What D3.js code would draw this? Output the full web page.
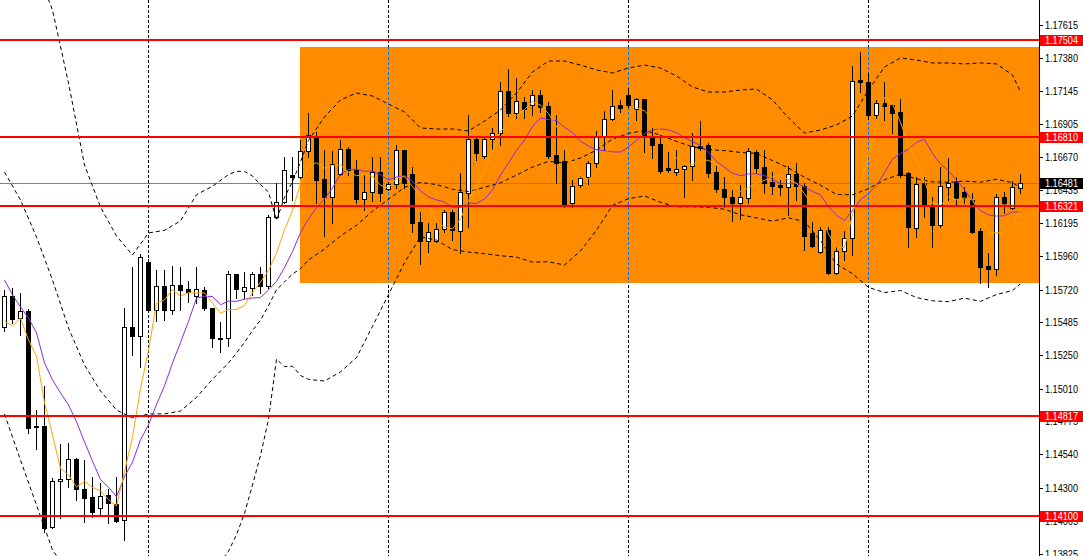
<!DOCTYPE html>
<html><head><meta charset="utf-8">
<script src="https://cdn.jsdelivr.net/npm/d3@7"></script>
<style>html,body{margin:0;padding:0;background:#fff;overflow:hidden}</style>
</head><body>
<svg id="chart" width="1083" height="556"></svg>
<script>
const opens = [1.15452,1.15674,1.15516,1.15566,1.14742,1.14742,1.14019,1.14348,1.14363,1.14506,
1.14291,1.14234,1.14155,1.14248,1.14183,1.14069,1.15452,1.15387,1.15917,1.15573,
1.15745,1.15573,1.15752,1.15724,1.15674,1.15717,1.15588,1.15373,1.15373,1.15831,
1.15709,1.15731,1.15831,1.15745,1.16240,1.16347,1.16540,1.16526,1.16712,1.16806,
1.16512,1.16383,1.16548,1.16727,1.16576,1.16368,1.16419,1.16562,1.16440,1.16476,
1.16720,1.16548,1.16204,1.16068,1.16068,1.16154,1.16275,1.16139,1.16411,1.16798,
1.16677,1.16798,1.16841,1.17142,1.16985,1.17063,1.17042,1.17114,1.17035,1.16684,
1.16641,1.16340,1.16469,1.16526,1.16626,1.16813,1.16942,1.17042,1.17114,1.17013,
1.17085,1.16813,1.16762,1.16590,1.16562,1.16583,1.16605,1.16748,1.16755,1.16562,
1.16440,1.16383,1.16340,1.16376,1.16705,1.16598,1.16490,1.16469,1.16454,1.16548,
1.16462,1.16125,1.15989,1.16146,1.15838,1.15996,1.16089,1.17221,1.17207,1.16970,
1.17056,1.17042,1.16992,1.16555,1.16161,1.16483,1.16318,1.16182,1.16454,1.16490,
1.16419,1.16361,1.16139,1.15889,1.15867,1.16383,1.16304,1.16447];
const highs = [1.15717,1.15731,1.15695,1.15580,1.14857,1.15029,1.14370,1.14613,1.14620,1.14513,
1.14499,1.14377,1.14334,1.14291,1.14377,1.15588,1.15881,1.15974,1.15939,1.15860,
1.15860,1.15889,1.15881,1.15781,1.15881,1.15738,1.15590,1.15487,1.15853,1.15833,
1.15846,1.15846,1.15881,1.16254,1.16483,1.16669,1.16669,1.16791,1.16985,1.16849,
1.16720,1.16712,1.16791,1.16741,1.16648,1.16540,1.16669,1.16669,1.16490,1.16755,
1.16722,1.16598,1.16275,1.16197,1.16197,1.16290,1.16290,1.16555,1.16970,1.16813,
1.16813,1.16877,1.17207,1.17300,1.17235,1.17099,1.17149,1.17149,1.17063,1.16970,
1.16720,1.16505,1.16533,1.16641,1.16856,1.16999,1.17149,1.17078,1.17164,1.17092,
1.17087,1.16877,1.16827,1.16705,1.16720,1.16612,1.16841,1.16927,1.16770,1.16605,
1.16526,1.16433,1.16469,1.16734,1.16720,1.16720,1.16562,1.16505,1.16605,1.16626,
1.16483,1.16204,1.16168,1.16168,1.16025,1.16139,1.17321,1.17422,1.17271,1.17078,
1.17207,1.17049,1.17085,1.16562,1.16526,1.16526,1.16383,1.16598,1.16662,1.16526,
1.16454,1.16411,1.16161,1.15982,1.16404,1.16419,1.16497,1.16548];
const lows = [1.15423,1.15480,1.15394,1.14692,1.14577,1.13983,1.14012,1.14083,1.14305,1.14212,
1.14055,1.14090,1.14105,1.14047,1.14055,1.13926,1.15251,1.15165,1.15559,1.15494,
1.15502,1.15545,1.15573,1.15631,1.15623,1.15573,1.15308,1.15272,1.15315,1.15659,
1.15659,1.15681,1.15695,1.15731,1.16232,1.16340,1.16361,1.16519,1.16669,1.16340,
1.16103,1.16197,1.16540,1.16540,1.16340,1.16290,1.16354,1.16354,1.16433,1.16447,
1.16447,1.16132,1.15903,1.15989,1.16060,1.16132,1.16075,1.15982,1.16168,1.16648,
1.16662,1.16727,1.16755,1.16963,1.16949,1.16949,1.16970,1.16992,1.16662,1.16483,
1.16311,1.16311,1.16454,1.16476,1.16598,1.16720,1.16934,1.16992,1.17028,1.16934,
1.16705,1.16662,1.16555,1.16562,1.16540,1.16383,1.16505,1.16720,1.16526,1.16419,
1.16311,1.16211,1.16225,1.16340,1.16555,1.16411,1.16404,1.16397,1.16254,1.16361,
1.16003,1.16025,1.15982,1.15831,1.15831,1.15932,1.15967,1.17135,1.16942,1.16949,
1.16934,1.16841,1.16526,1.16025,1.16096,1.16240,1.16025,1.16168,1.16361,1.16326,
1.16340,1.16125,1.15767,1.15738,1.15824,1.16268,1.16297,1.16411];
const closes = [1.15674,1.15509,1.15566,1.14728,1.14735,1.14012,1.14348,1.14363,1.14506,1.14291,
1.14226,1.14126,1.14241,1.14191,1.14062,1.15452,1.15387,1.15953,1.15573,1.15745,
1.15573,1.15752,1.15717,1.15702,1.15724,1.15588,1.15373,1.15366,1.15831,1.15724,
1.15738,1.15831,1.15745,1.16240,1.16347,1.16576,1.16526,1.16712,1.16827,1.16505,
1.16383,1.16619,1.16727,1.16576,1.16368,1.16419,1.16562,1.16411,1.16476,1.16720,
1.16483,1.16197,1.16068,1.16132,1.16154,1.16275,1.16146,1.16419,1.16798,1.16698,
1.16798,1.16841,1.17142,1.16985,1.17071,1.17013,1.17114,1.17028,1.16677,1.16626,
1.16333,1.16462,1.16519,1.16626,1.16813,1.16942,1.17035,1.17020,1.17042,1.17085,
1.16813,1.16755,1.16569,1.16576,1.16583,1.16605,1.16748,1.16734,1.16555,1.16440,
1.16383,1.16340,1.16383,1.16712,1.16590,1.16483,1.16462,1.16454,1.16548,1.16462,
1.16103,1.16032,1.16146,1.15838,1.15996,1.16089,1.17214,1.17207,1.16970,1.17056,
1.17035,1.16985,1.16540,1.16168,1.16476,1.16318,1.16182,1.16462,1.16483,1.16376,
1.16376,1.16132,1.15881,1.15867,1.16383,1.16340,1.16454,1.16481];
const maFast = [1.15494,1.15459,1.15516,1.15358,1.15242,1.14910,1.14678,1.14437,1.14393,1.14304,
1.14347,1.14302,1.14278,1.14215,1.14169,1.14414,1.14666,1.15009,1.15285,1.15622,
1.15646,1.15719,1.15672,1.15698,1.15694,1.15696,1.15621,1.15550,1.15576,1.15576,
1.15606,1.15698,1.15774,1.15856,1.15980,1.16148,1.16287,1.16480,1.16598,1.16629,
1.16591,1.16609,1.16612,1.16562,1.16535,1.16542,1.16530,1.16467,1.16447,1.16517,
1.16530,1.16457,1.16389,1.16320,1.16207,1.16165,1.16155,1.16225,1.16358,1.16467,
1.16572,1.16711,1.16856,1.16893,1.16967,1.17010,1.17065,1.17042,1.16980,1.16891,
1.16755,1.16625,1.16523,1.16513,1.16550,1.16672,1.16787,1.16887,1.16970,1.17025,
1.16999,1.16943,1.16853,1.16760,1.16659,1.16618,1.16616,1.16649,1.16645,1.16616,
1.16572,1.16490,1.16420,1.16452,1.16482,1.16502,1.16526,1.16540,1.16507,1.16482,
1.16406,1.16320,1.16258,1.16116,1.16023,1.16020,1.16257,1.16469,1.16695,1.16907,
1.17096,1.17051,1.16917,1.16757,1.16641,1.16497,1.16337,1.16321,1.16384,1.16364,
1.16376,1.16366,1.16250,1.16126,1.16128,1.16121,1.16185,1.16304];
const maSlow = [1.15788,1.15681,1.15595,1.15516,1.15409,1.15194,1.15072,1.14979,1.14893,1.14773,
1.14628,1.14490,1.14358,1.14304,1.14236,1.14380,1.14484,1.14643,1.14750,1.14896,
1.15030,1.15193,1.15340,1.15492,1.15658,1.15671,1.15670,1.15611,1.15637,1.15635,
1.15651,1.15659,1.15662,1.15716,1.15778,1.15877,1.15992,1.16127,1.16227,1.16305,
1.16369,1.16448,1.16546,1.16580,1.16582,1.16566,1.16570,1.16540,1.16505,1.16526,
1.16536,1.16494,1.16428,1.16383,1.16362,1.16348,1.16306,1.16307,1.16339,1.16337,
1.16368,1.16433,1.16540,1.16626,1.16717,1.16791,1.16888,1.16949,1.16937,1.16929,
1.16883,1.16845,1.16783,1.16747,1.16721,1.16714,1.16706,1.16705,1.16742,1.16788,
1.16836,1.16865,1.16870,1.16865,1.16842,1.16808,1.16780,1.16751,1.16702,1.16638,
1.16595,1.16553,1.16535,1.16548,1.16549,1.16537,1.16508,1.16480,1.16480,1.16482,
1.16454,1.16423,1.16399,1.16312,1.16253,1.16213,1.16288,1.16363,1.16406,1.16465,
1.16558,1.16654,1.16693,1.16726,1.16774,1.16797,1.16694,1.16619,1.16570,1.16502,
1.16436,1.16351,1.16285,1.16255,1.16246,1.16248,1.16275,1.16277];
const bandBars = [0,2,4,6,8,10,12,14,16,18,20,22,24,26,28,29,30,31,32,33,34,35,36,37,38,
40,42,44,46,48,50,52,54,56,58,60,62,64,66,68,70,72,74,76,78,80,82,84,86,88,90,92,94,96,98,
100,102,104,106,108,110,112,114,116,118,120,122,124,126,127];
const bbMid = [1.16562,1.16361,1.16096,1.15788,1.15444,1.15179,1.14993,1.14857,1.14800,1.14828,1.14829,1.14849,1.14947,1.15077,1.15194,
1.15265,1.15341,1.15426,1.15501,1.15604,1.15718,1.15774,1.15831,1.15869,1.15932,
1.16010,1.16104,1.16180,1.16281,1.16366,1.16452,1.16487,1.16472,1.16438,1.16422,
1.16452,1.16484,1.16540,1.16597,1.16638,1.16626,1.16662,1.16719,1.16797,1.16839,
1.16859,1.16826,1.16781,1.16742,1.16722,1.16715,1.16702,1.16695,1.16644,1.16591,
1.16524,1.16467,1.16401,1.16398,1.16442,1.16506,1.16546,1.16513,1.16491,1.16488,
1.16497,1.16489,1.16510,1.16485,1.16448];
const bbUpper = [1.18296,1.18224,1.18016,1.17722,1.17200,1.16612,1.16311,1.16103,1.15967,1.16125,1.16144,1.16211,1.16399,1.16460,1.16543,
1.16567,1.16566,1.16533,1.16471,1.16419,1.16215,1.16381,1.16492,1.16634,1.16788,
1.16956,1.17078,1.17128,1.17106,1.17049,1.16992,1.16877,1.16870,1.16870,1.16856,
1.16927,1.17006,1.17128,1.17278,1.17357,1.17357,1.17328,1.17293,1.17271,1.17307,
1.17328,1.17307,1.17250,1.17171,1.17135,1.17135,1.17149,1.17157,1.17078,1.16949,
1.16841,1.16863,1.16899,1.16963,1.17149,1.17314,1.17379,1.17364,1.17343,1.17343,
1.17336,1.17343,1.17336,1.17257,1.17135];
const bbLower = [1.14828,1.14498,1.14176,1.13854,1.13688,1.13746,1.13675,1.13611,1.13633,1.13531,1.13514,1.13487,1.13495,1.13694,1.13845,
1.13963,1.14116,1.14319,1.14531,1.14789,1.15221,1.15167,1.15170,1.15104,1.15076,
1.15064,1.15130,1.15232,1.15456,1.15683,1.15912,1.16097,1.16074,1.16006,1.15988,
1.15977,1.15962,1.15952,1.15916,1.15919,1.15895,1.15996,1.16145,1.16323,1.16371,
1.16390,1.16345,1.16312,1.16313,1.16309,1.16295,1.16255,1.16233,1.16210,1.16233,
1.16207,1.16071,1.15903,1.15833,1.15735,1.15698,1.15713,1.15662,1.15639,1.15633,
1.15658,1.15635,1.15684,1.15713,1.15761];
const tickValues = [1.17615,1.17380,1.17145,1.16905,1.16670,1.16435,1.16195,1.15960,1.15720,1.15485,1.15250,1.15010,1.14775,1.14540,1.14300,1.14065,1.13825];
const levels = [1.17504,1.16810,1.16321,1.14817,1.14100];
const lastPrice = 1.16481;
const gridBars = [18,48,78,108];
const zoneStartBar = 37;
const zoneTop = 1.17457;
const zoneBottom = 1.15767;

const W = 1083, H = 556, plotRight = 1039;
const x = d3.scaleLinear().domain([0, 127]).range([4, 1020]);
const y = d3.scaleLinear().domain([1.13825, 1.17615]).range([554, 25]);
const px = v => Math.round(v) + 0.5;
const svg = d3.select('#chart');
svg.append('rect').attr('width', W).attr('height', H).attr('fill', '#fff');
svg.append('defs').append('clipPath').attr('id', 'clip')
  .append('rect').attr('x', 0).attr('y', 0).attr('width', plotRight).attr('height', H);
const g = svg.append('g').attr('clip-path', 'url(#clip)');

// vertical grid
g.selectAll('line.grid').data(gridBars).join('line')
  .attr('x1', d => px(x(d))).attr('x2', d => px(x(d))).attr('y1', 0).attr('y2', H)
  .attr('stroke', '#000').attr('stroke-dasharray', '3,2').attr('shape-rendering', 'crispEdges');

// zone rectangle
const zx0 = Math.round(x(zoneStartBar)), zy0 = Math.round(y(zoneTop)), zy1 = Math.round(y(zoneBottom));
g.append('rect').attr('x', zx0).attr('y', zy0).attr('width', plotRight - zx0).attr('height', zy1 - zy0)
  .attr('fill', '#ff8c00');
g.selectAll('line.grid2').data(gridBars.filter(d => x(d) > zx0)).join('line')
  .attr('x1', d => px(x(d))).attr('x2', d => px(x(d))).attr('y1', zy0).attr('y2', zy1)
  .attr('stroke', '#0073ff').attr('stroke-dasharray', '3,2').attr('shape-rendering', 'crispEdges');

// bid line
g.append('line').attr('x1', 0).attr('x2', plotRight).attr('y1', px(y(lastPrice))).attr('y2', px(y(lastPrice)))
  .attr('stroke', '#808080').attr('shape-rendering', 'crispEdges');

// candles
const idx = d3.range(closes.length);
const bars = idx.map(i => ({i, o: opens[i], h: highs[i], l: lows[i], c: closes[i]}));
const cg = g.append('g').attr('shape-rendering', 'crispEdges');
cg.selectAll('line.wick').data(bars).join('line')
  .attr('x1', d => px(x(d.i))).attr('x2', d => px(x(d.i)))
  .attr('y1', d => Math.round(y(d.h))).attr('y2', d => Math.round(y(d.l)) + 1)
  .attr('stroke', '#000');
cg.selectAll('path.body').data(bars).join('path')
  .attr('d', d => {
    const x0 = Math.round(x(d.i)) - 1.5;
    const t = Math.round(y(Math.max(d.o, d.c))) + 0.5;
    const b = Math.round(y(Math.min(d.o, d.c))) + 0.5;
    return `M${x0},${t}H${x0 + 4}V${b}H${x0}Z`;
  })
  .attr('fill', d => d.c >= d.o ? '#fff' : '#000').attr('stroke', '#000');

// Bollinger bands (dashed)
const bandLine = arr => d3.line().x((b, k) => x(b) + 0.5).y((b, k) => y(arr[k]))(bandBars);
[bbUpper, bbMid, bbLower].forEach(arr => {
  g.append('path').attr('d', bandLine(arr)).attr('fill', 'none').attr('stroke', '#000')
    .attr('stroke-width', 1).attr('stroke-dasharray', '4,3');
});

// moving averages
const lineGen = arr => d3.line().x(i => x(i) + 0.5).y(i => y(arr[i]))(idx);
g.append('path').attr('d', lineGen(maSlow)).attr('fill', 'none').attr('stroke', '#8a2be2').attr('stroke-width', 1);
g.append('path').attr('d', lineGen(maFast)).attr('fill', 'none').attr('stroke', '#ffa500').attr('stroke-width', 1);

// horizontal levels
g.selectAll('line.level').data(levels).join('line')
  .attr('x1', 0).attr('x2', plotRight).attr('y1', d => Math.round(y(d))).attr('y2', d => Math.round(y(d)))
  .attr('stroke', '#ff0000').attr('stroke-width', 2).attr('shape-rendering', 'crispEdges');

// right axis
svg.append('line').attr('x1', plotRight + 0.5).attr('x2', plotRight + 0.5).attr('y1', 0).attr('y2', H)
  .attr('stroke', '#000').attr('shape-rendering', 'crispEdges');
const font = '"Liberation Sans", Arial, sans-serif';
const ax = svg.append('g');
ax.selectAll('line.tick').data(tickValues).join('line')
  .attr('x1', plotRight).attr('x2', plotRight + 4).attr('y1', d => px(y(d))).attr('y2', d => px(y(d)))
  .attr('stroke', '#000').attr('shape-rendering', 'crispEdges');
ax.selectAll('text.tick').data(tickValues).join('text')
  .attr('x', 1045).attr('y', d => Math.round(y(d)) + 4)
  .attr('font-family', font).attr('font-size', 10).attr('fill', '#000')
  .attr('textLength', 33).attr('lengthAdjust', 'spacingAndGlyphs')
  .text(d => d.toFixed(5));

function tag(v, bg) {
  const yy = Math.round(y(v));
  ax.append('rect').attr('x', 1040).attr('y', yy - 5).attr('width', 43).attr('height', 11).attr('fill', bg);
  ax.append('text').attr('x', 1045).attr('y', yy + 4).attr('font-family', font).attr('font-size', 10)
    .attr('fill', '#fff').attr('textLength', 33).attr('lengthAdjust', 'spacingAndGlyphs').text(v.toFixed(5));
}
levels.forEach(v => tag(v, '#ff0000'));
tag(lastPrice, '#000');
</script>
</body></html>
